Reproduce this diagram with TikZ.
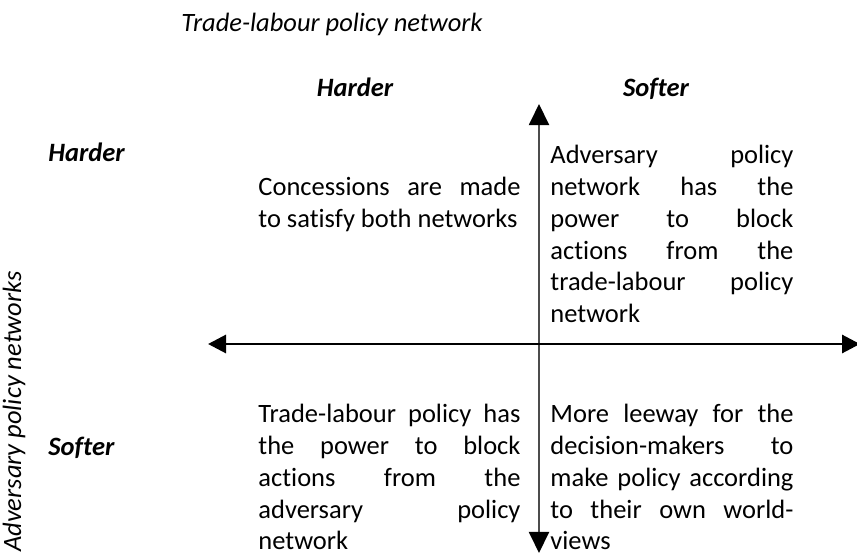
\documentclass[tikz,border=0pt]{standalone}
\usepackage{fontspec}
\setmainfont{Carlito}[Ligatures=NoCommon]
\usetikzlibrary{arrows.meta}

\newcommand\cellfont{\fontsize{12.5}{15}\selectfont\tolerance=10000\hyphenpenalty=10000}
\newcommand\headfont{\fontsize{12.5}{15}\selectfont\bfseries\itshape}

\tikzset{
  cell/.style={anchor=north west, inner sep=0pt, align=justify, font=\cellfont},
  head/.style={anchor=base, inner sep=0pt, font=\headfont},
  side/.style={anchor=base west, inner sep=0pt, font=\headfont}
}

\begin{document}
\begin{tikzpicture}[x=0.472pt, y=-0.472pt]

\useasboundingbox (0,0) rectangle (857,556);

% axis titles
\node[anchor=base west, inner sep=0pt, font=\fontsize{12.5}{15}\selectfont\itshape] (title) at (181,32) {Trade-labour policy network};
\node[anchor=base east, inner sep=0pt, rotate=90, font=\fontsize{12.5}{15}\selectfont\itshape] (ytitle) at (21,271) {Adversary policy networks};

\node[head] (tharder) at (355,97) {Harder};
\node[head] (tsofter) at (656,97) {Softer};
\node[side] (lharder) at (48,162) {Harder};
\node[side] (lsofter) at (48,455) {Softer};

% the two axes
\coordinate (top) at (539,104);
\coordinate (bottom) at (539,553);
\coordinate (left) at (208,344);
\coordinate (right) at (860,344);
\draw[black!70, line width=1pt, {Triangle[length=10pt,width=9.5pt,color=black]}-{Triangle[length=10pt,width=9.5pt,color=black]}] (bottom) -- (top);
\draw[black, line width=1.4pt, {Triangle[length=8.5pt,width=8.5pt]}-{Triangle[length=8.5pt,width=8.5pt]}] (left) -- (right);

% quadrants
\node[cell, text width=123.7pt] (hh) at (258,173) {\strut Concessions are made\linebreak to satisfy both networks};
\node[cell, text width=114.7pt] (hs) at (550,141) {\strut Adversary policy\linebreak network has the\linebreak power to block\linebreak actions from the\linebreak trade-labour policy\linebreak network};
\node[cell, text width=123.7pt] (sh) at (258,400) {\strut Trade-labour policy has\linebreak the power to block\linebreak actions from the\linebreak adversary policy\linebreak network};
\node[cell, text width=114.7pt] (ss) at (550,400) {\strut More leeway for the\linebreak decision-makers to\linebreak make policy according\linebreak to their own world-\linebreak views};

\end{tikzpicture}
\end{document}
